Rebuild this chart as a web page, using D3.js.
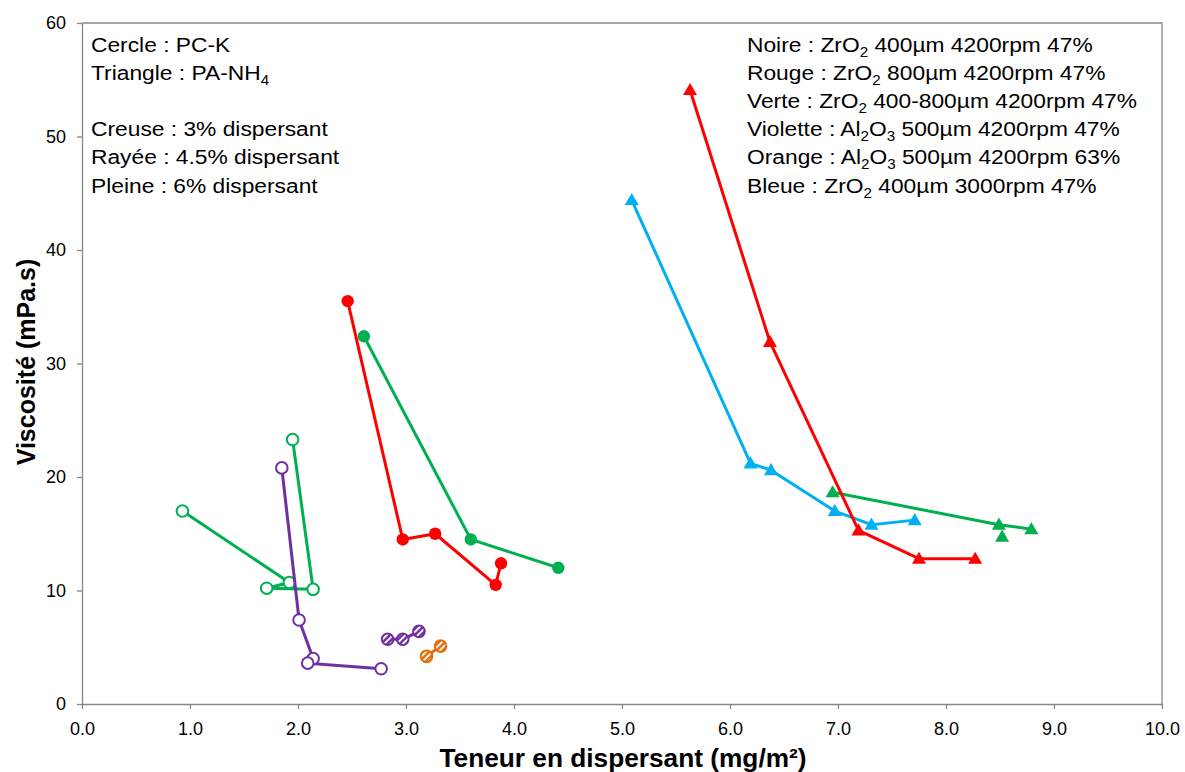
<!DOCTYPE html>
<html>
<head>
<meta charset="utf-8">
<script src="https://cdn.jsdelivr.net/npm/d3@7"></script>
<style>
  html, body { margin: 0; padding: 0; background: #fff; }
  svg { display: block; font-family: "Liberation Sans", Arial, sans-serif; }
</style>
</head>
<body>
<svg id="chart" width="1185" height="772"></svg>
<script>
// Axis ticks
const xTicks = [0, 1, 2, 3, 4, 5, 6, 7, 8, 9, 10];
const yTicks = [0, 10, 20, 30, 40, 50, 60];

// PC-K (circles): [dispersant mg/m², viscosity mPa.s]
const pcVerteCreuse   = [[0.93, 17.0], [1.92, 10.7], [1.71, 10.2], [2.14, 10.1], [1.95, 23.3]];
const pcVioletteCreuse = [[1.85, 20.8], [2.01, 7.4], [2.14, 4.0], [2.09, 3.6], [2.77, 3.1]];
const pcVioletteRayee = [[2.83, 5.7], [2.97, 5.7], [3.12, 6.4]];
const pcOrangeRayee   = [[3.19, 4.2], [3.32, 5.1]];
const pcRougePleine   = [[2.46, 35.5], [2.97, 14.5], [3.27, 15.0], [3.83, 10.5], [3.88, 12.4]];
const pcVertePleine   = [[2.61, 32.4], [3.60, 14.5], [4.41, 12.0]];

// PA-NH4 (triangles)
const paRougePleine   = [[5.63, 54.1], [6.37, 31.9], [7.19, 15.3], [7.75, 12.8], [8.27, 12.8]];
const paBleuePleine   = [[5.09, 44.4], [6.19, 21.2], [6.38, 20.6], [6.97, 17.0], [7.31, 15.8], [7.71, 16.2]];
const paVertePleine   = [[6.95, 18.65], [8.49, 15.8], [8.79, 15.4]];
const paVertePoint    = [[8.52, 14.75]];

// Annotation texts
const noteLeft = [
  [{t: "Cercle : PC-K"}],
  [{t: "Triangle : PA-NH"}, {t: "4", sub: true}],
  [],
  [{t: "Creuse : 3% dispersant"}],
  [{t: "Rayée : 4.5% dispersant"}],
  [{t: "Pleine : 6% dispersant"}]
];
const noteRight = [
  [{t: "Noire : ZrO"}, {t: "2", sub: true}, {t: " 400µm 4200rpm 47%"}],
  [{t: "Rouge : ZrO"}, {t: "2", sub: true}, {t: " 800µm 4200rpm 47%"}],
  [{t: "Verte : ZrO"}, {t: "2", sub: true}, {t: " 400-800µm 4200rpm 47%"}],
  [{t: "Violette : Al"}, {t: "2", sub: true}, {t: "O"}, {t: "3", sub: true}, {t: " 500µm 4200rpm 47%"}],
  [{t: "Orange : Al"}, {t: "2", sub: true}, {t: "O"}, {t: "3", sub: true}, {t: " 500µm 4200rpm 63%"}],
  [{t: "Bleue : ZrO"}, {t: "2", sub: true}, {t: " 400µm 3000rpm 47%"}]
];

const C = { red: "#ff0000", green: "#00b050", purple: "#7030a0", orange: "#e46c0a", blue: "#00b0f0" };

const series = [
  { pts: pcVerteCreuse, color: C.green, shape: "circle", fill: "hollow", line: true },
  { pts: pcVioletteCreuse, color: C.purple, shape: "circle", fill: "hollow", line: true },
  { pts: pcVioletteRayee, color: C.purple, shape: "circle", fill: "striped", line: true },
  { pts: pcOrangeRayee, color: C.orange, shape: "circle", fill: "striped", line: true },
  { pts: pcRougePleine, color: C.red, shape: "circle", fill: "solid", line: true },
  { pts: pcVertePleine, color: C.green, shape: "circle", fill: "solid", line: true },
  { pts: paBleuePleine, color: C.blue, shape: "triangle", fill: "solid", line: true },
  { pts: paVertePleine, color: C.green, shape: "triangle", fill: "solid", line: true },
  { pts: paVertePoint, color: C.green, shape: "triangle", fill: "solid", line: false },
  { pts: paRougePleine, color: C.red, shape: "triangle", fill: "solid", line: true }
];

const svg = d3.select("#chart");
const plotLeft = 82, plotRight = 1162, plotTop = 23, plotBottom = 704;

const x = d3.scaleLinear().domain([0, 10]).range([plotLeft, plotRight]);
const y = d3.scaleLinear().domain([0, 60]).range([plotBottom, plotTop]);

// Striped fill patterns
const defs = svg.append("defs");
[["stripe-purple", C.purple], ["stripe-orange", C.orange]].forEach(([id, col]) => {
  const p = defs.append("pattern")
    .attr("id", id).attr("patternUnits", "userSpaceOnUse")
    .attr("width", 4.4).attr("height", 4.4)
    .attr("patternTransform", "rotate(45)");
  p.append("rect").attr("width", 4.4).attr("height", 4.4).attr("fill", col);
  p.append("rect").attr("x", 0).attr("width", 1.9).attr("height", 4.4).attr("fill", "#fff");
});

const axisColor = "#868686";

// Plot area border (top and right)
svg.append("path")
  .attr("d", `M${plotLeft},${plotTop}H${plotRight}V${plotBottom}`)
  .attr("fill", "none").attr("stroke", axisColor).attr("stroke-width", 1.3);

// Axes
const xAxis = d3.axisBottom(x).tickValues(xTicks).tickFormat(d3.format(".1f")).tickSize(5).tickSizeOuter(0);
const gx = svg.append("g").attr("transform", `translate(0,${plotBottom})`).call(xAxis);
gx.select(".domain").attr("stroke", axisColor).attr("stroke-width", 1.3);
gx.selectAll(".tick line").attr("stroke", axisColor).attr("stroke-width", 1.3);
gx.selectAll(".tick text").attr("font-size", 18).attr("fill", "#000").attr("dy", "1.3em")
  .attr("font-family", "Liberation Sans, Arial, sans-serif");

const yAxis = d3.axisLeft(y).tickValues(yTicks).tickFormat(d3.format("d")).tickSize(5).tickSizeOuter(0);
const gy = svg.append("g").attr("transform", `translate(${plotLeft},0)`).call(yAxis);
gy.select(".domain").attr("stroke", axisColor).attr("stroke-width", 1.3);
gy.selectAll(".tick line").attr("stroke", axisColor).attr("stroke-width", 1.3);
gy.selectAll(".tick text").attr("font-size", 18).attr("fill", "#000").attr("x", -16)
  .attr("font-family", "Liberation Sans, Arial, sans-serif");

// Axis titles
svg.append("text")
  .attr("transform", "translate(623,767) scale(1.05,1)").attr("text-anchor", "middle")
  .attr("font-size", 25).attr("font-weight", "bold").text("Teneur en dispersant (mg/m²)");
svg.append("text")
  .attr("transform", "translate(35,362) rotate(-90)").attr("text-anchor", "middle")
  .attr("font-size", 25).attr("font-weight", "bold").text("Viscosité (mPa.s)");

// Series
const line = d3.line().x(d => x(d[0])).y(d => y(d[1]));
const tri = d3.symbol().type(d3.symbolTriangle).size(85);

series.forEach(s => {
  const g = svg.append("g");
  if (s.line) {
    g.append("path").attr("d", line(s.pts))
      .attr("fill", "none").attr("stroke", s.color).attr("stroke-width", 3)
      .attr("stroke-linejoin", "round");
  }
  if (s.shape === "circle") {
    g.selectAll("circle").data(s.pts).join("circle")
      .attr("cx", d => x(d[0])).attr("cy", d => y(d[1]))
      .attr("r", s.fill === "solid" ? 6.2 : 5.8)
      .attr("fill", s.fill === "solid" ? s.color
        : s.fill === "striped" ? `url(#stripe-${s.color === C.purple ? "purple" : "orange"})` : "#fff")
      .attr("stroke", s.fill === "solid" ? "none" : s.color)
      .attr("stroke-width", 2);
  } else {
    g.selectAll("path.m").data(s.pts).join("path").attr("class", "m")
      .attr("d", tri)
      .attr("transform", d => `translate(${x(d[0])},${y(d[1]) + 1})`)
      .attr("fill", s.color);
  }
});

// Annotation blocks
function drawNote(lines, x0, y0, step) {
  lines.forEach((parts, i) => {
    if (!parts.length) return;
    const t = svg.append("text")
      .attr("transform", `translate(${x0},${y0 + i * step}) scale(1.085,1)`)
      .attr("font-size", 21).attr("fill", "#000");
    let shifted = false;
    parts.forEach(p => {
      const ts = t.append("tspan").text(p.t);
      if (p.sub) {
        ts.attr("font-size", 14).attr("dy", 5);
        shifted = true;
      } else if (shifted) {
        ts.attr("dy", -5);
        shifted = false;
      }
    });
  });
}
drawNote(noteLeft, 91, 51.5, 28.2);
drawNote(noteRight, 747, 51.5, 28.2);
</script>
</body>
</html>
